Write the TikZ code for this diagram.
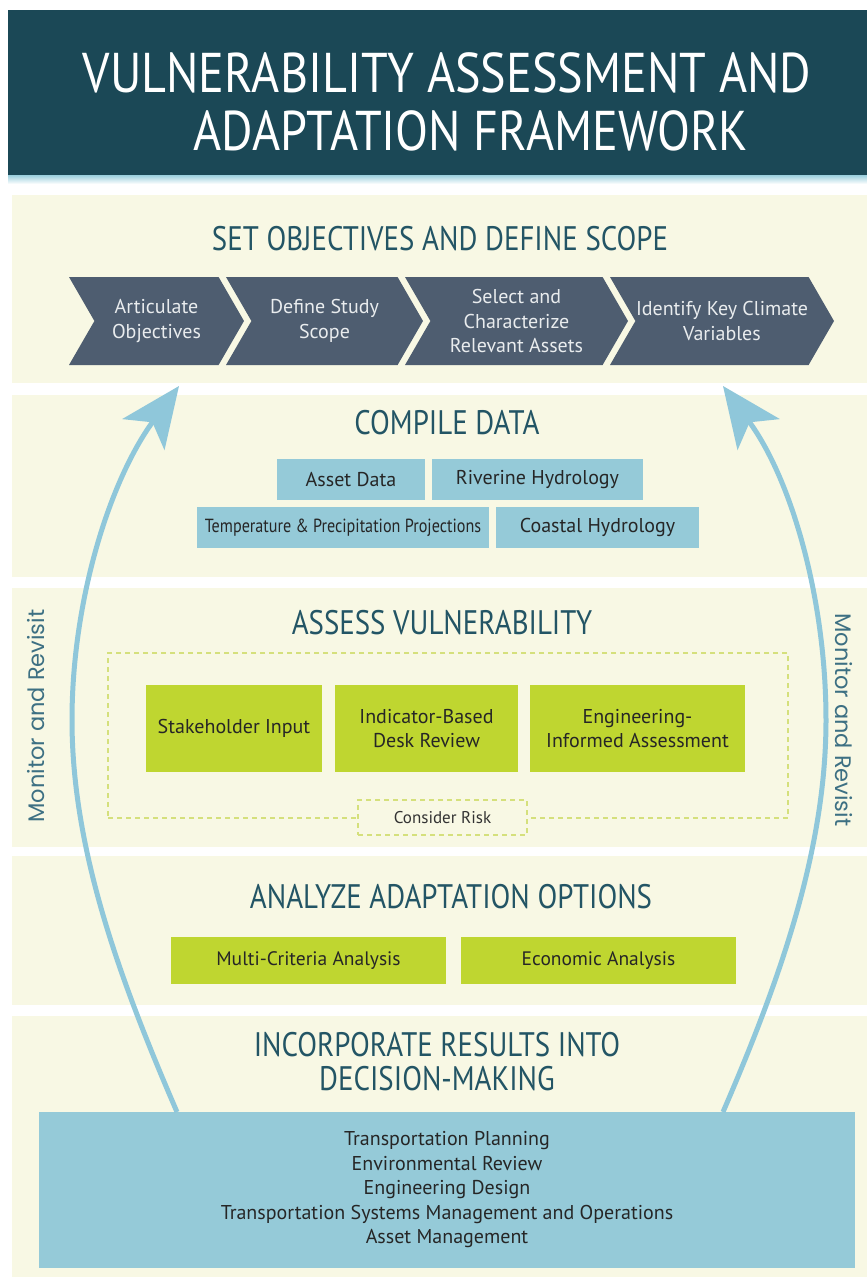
\documentclass[tikz,border=0pt]{standalone}
\usepackage{fontspec}
\setmainfont{PT Sans}
\newfontfamily\condfont[FakeStretch=0.85]{PT Sans}
\newfontfamily\titlefont[FakeStretch=0.86]{PT Sans}
\newfontfamily\sidefont{Poppins}
\usepackage{xcolor}
\usepackage{tikz}
\usetikzlibrary{shapes.symbols, arrows.meta}
\definecolor{bandteal}{HTML}{1B4856}
\definecolor{stripblue}{HTML}{9ACFDD}
\definecolor{cream}{HTML}{F8F8E4}
\definecolor{headteal}{HTML}{235565}
\definecolor{slate}{HTML}{4E5D70}
\definecolor{chevtext}{HTML}{E9ECEE}
\definecolor{skyblue}{HTML}{95CAD8}
\definecolor{lime}{HTML}{BFD630}
\definecolor{loopblue}{HTML}{8FC7DA}
\definecolor{dashlime}{HTML}{D5E07C}
\definecolor{sidetext}{HTML}{3D7083}
\tikzstyle{headtext} = [anchor=base, text=headteal, inner sep=0pt, align=center,
                        font=\condfont\fontsize{34}{34}\selectfont]
\tikzstyle{chevstep} = [signal, signal to=east, signal from=west, signal pointer angle=120,
                        fill=slate, text=chevtext, minimum height=88pt, inner sep=0pt,
                        align=center, font=\fontsize{20}{24.5}\selectfont]
\tikzstyle{datatile} = [rectangle, fill=skyblue, minimum height=41pt, inner sep=0pt,
                        text=black!85, font=\fontsize{20}{23}\selectfont]
\tikzstyle{evalbox} = [rectangle, fill=lime, minimum height=87pt, inner sep=0pt, align=center,
                       text=black!85, font=\fontsize{20}{24}\selectfont]
\tikzstyle{optbox} = [rectangle, fill=lime, minimum width=275pt, minimum height=47pt, inner sep=0pt,
                      text=black!85, font=\fontsize{19.5}{23}\selectfont]
\tikzstyle{riskframe} = [rectangle, draw=dashlime, line width=1.6pt, dash pattern=on 5pt off 4pt]
\tikzstyle{decidebox} = [rectangle, fill=skyblue, inner sep=0pt, align=center,
                         text=black!85, font=\fontsize{20}{24.5}\selectfont]
\tikzstyle{sidenote} = [text=sidetext, inner sep=0pt, font=\sidefont\fontsize{22.5}{22.5}\selectfont]
\tikzstyle{looparrow} = [draw=loopblue, line width=5pt, -{Stealth[length=60pt, width=52pt, inset=15pt]}]

\begin{document}
\begin{tikzpicture}[x=1pt, y=-1pt]
\useasboundingbox (0,0) rectangle (867,1278);
\fill[white] (0,0) rectangle (867,1278);

% title band
\fill[bandteal] (8,10) rectangle (867,175);
\shade[top color=stripblue, bottom color=white] (8,175) rectangle (867,184);
\node[anchor=base, text=white, inner sep=0pt, font=\titlefont\fontsize{56}{56}\selectfont]
  (title1) at (447,92) {VULNERABILITY ASSESSMENT AND};
\node[anchor=base, text=white, inner sep=0pt, font=\titlefont\fontsize{56}{56}\selectfont]
  (title2) at (471,150) {ADAPTATION FRAMEWORK};

% section panels
\fill[cream] (12,195) rectangle (867,383);
\fill[cream] (12,395) rectangle (867,577);
\fill[cream] (12,588) rectangle (867,847);
\fill[cream] (12,856) rectangle (867,1005);
\fill[cream] (12,1016) rectangle (867,1277);

% set objectives
\node[headtext] (scopeHead) at (440,250) {SET OBJECTIVES AND DEFINE SCOPE};
\node[chevstep, minimum width=175pt] (artic) at (156.5,321) {Articulate\\Objectives};
\node[chevstep, minimum width=197pt] (studyScope) at (324.5,321) {Define Study\\Scope};
\node[chevstep, minimum width=223pt] (assets) at (516.5,321) {Select and\\Characterize\\Relevant Assets};
\node[chevstep, minimum width=224pt] (climVars) at (722,321) {Identify Key Climate\\Variables};

% compile data
\node[headtext] (dataHead) at (447,434) {COMPILE DATA};
\node[datatile, minimum width=148pt] (assetData) at (351,479.5) {Asset Data};
\node[datatile, minimum width=211pt] (riverine) at (537.5,479.5) {Riverine Hydrology};
\node[datatile, minimum width=292pt, font=\condfont\fontsize{19}{23}\selectfont] (tempPrecip) at (343,527.5) {Temperature \& Precipitation Projections};
\node[datatile, minimum width=203pt] (coastal) at (597.5,527.5) {Coastal Hydrology};

% assess vulnerability
\node[headtext] (vulnHead) at (442,634) {ASSESS VULNERABILITY};
\node[riskframe, minimum width=680pt, minimum height=165pt] (riskArea) at (448,735.5) {};
\node[evalbox, minimum width=176pt] (stakeholder) at (234,728.5) {Stakeholder Input};
\node[evalbox, minimum width=183pt] (deskReview) at (426.5,728.5) {Indicator-Based\\Desk Review};
\node[evalbox, minimum width=215pt] (engAssess) at (637.5,728.5) {Engineering-\\Informed Assessment};
\node[riskframe, fill=cream, minimum width=169pt, minimum height=35pt, text=black!80,
      font=\fontsize{17}{20}\selectfont] (risk) at (442.5,817.5) {Consider Risk};

% adaptation options
\node[headtext] (optHead) at (451,908) {ANALYZE ADAPTATION OPTIONS};
\node[optbox] (multiCrit) at (308.5,960.5) {Multi-Criteria Analysis};
\node[optbox] (economic) at (598.5,960.5) {Economic Analysis};

% decision-making
\node[headtext, anchor=north] (decideHead) at (437,1032)
  {INCORPORATE RESULTS INTO\\DECISION-MAKING};
\node[decidebox, minimum width=816pt, minimum height=156pt] (decide) at (447,1190)
  {Transportation Planning\\Environmental Review\\Engineering Design\\
   Transportation Systems Management and Operations\\Asset Management};

% monitor and revisit loops
\coordinate (backL) at (177,1112);
\coordinate (tipL) at (179,386);
\coordinate (backR) at (723,1112);
\coordinate (tipR) at (723,386);
\draw[looparrow] (backL) .. controls (120,980) and (72,850) .. (72,720)
                         .. controls (72,600) and (110,480) .. (tipL);
\draw[looparrow] (backR) .. controls (780,980) and (826,850) .. (826,720)
                         .. controls (826,600) and (792,480) .. (tipR);
\node[sidenote, rotate=90] (monL) at (36,716) {Monitor and Revisit};
\node[sidenote, rotate=-90] (monR) at (844,720) {Monitor and Revisit};

\end{tikzpicture}
\end{document}
